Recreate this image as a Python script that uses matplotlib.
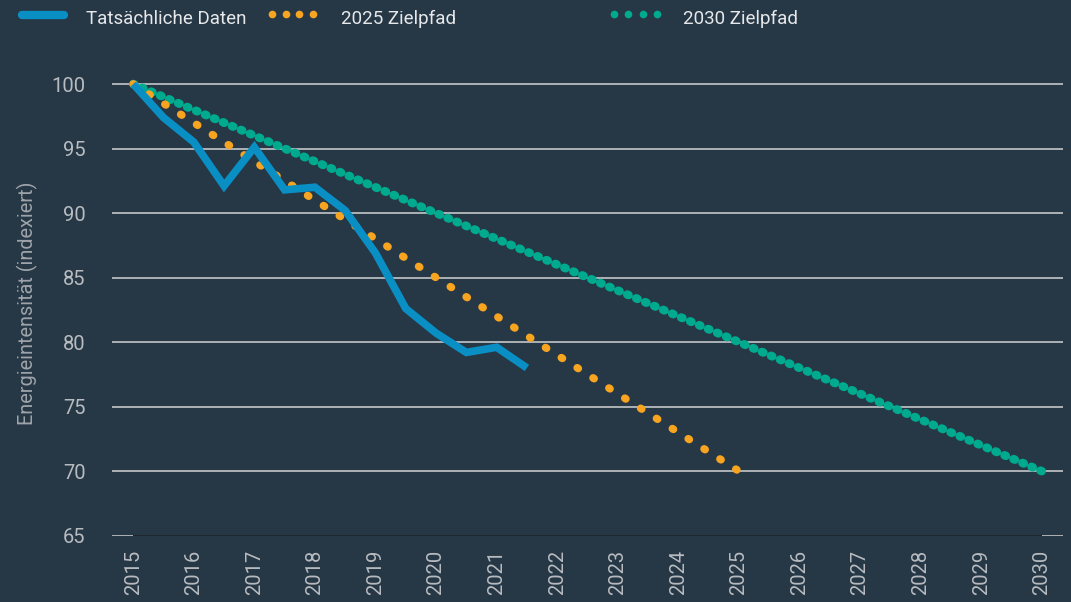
import matplotlib
matplotlib.use("Agg")
import matplotlib.pyplot as plt
from matplotlib.lines import Line2D

# ---- data ----
actual_years = [2015, 2015.5, 2016, 2016.5, 2017, 2017.5, 2018, 2018.5,
                2019, 2019.5, 2020, 2020.5, 2021, 2021.5]
actual_values = [100, 97.4, 95.5, 92.1, 95.1, 91.8, 92.0, 90.2,
                 86.9, 82.6, 80.7, 79.2, 79.6, 78.0]
target2025_years = [2015, 2025]
target2025_values = [100, 70]
target2030_years = [2015, 2030]
target2030_values = [100, 70]
x_ticks = list(range(2015, 2031))
y_ticks = [65, 70, 75, 80, 85, 90, 95, 100]
labels = ["Tatsächliche Daten", "2025 Zielpfad", "2030 Zielpfad"]
y_label = "Energieintensität (indexiert)"

# ---- style ----
BG = "#263746"
BLUE = "#0a8fc4"
ORANGE = "#f7a421"
GREEN = "#00aa8e"
GRID = "#c4c6c8"
TICK = "#b8bcc0"
FONT = ["Roboto", "DejaVu Sans"]
plt.rcParams["font.family"] = FONT

fig = plt.figure(figsize=(10.71, 6.02), dpi=100, facecolor=BG)
ax = fig.add_axes([112 / 1071, 66.3 / 602, (1063 - 112) / 1071, (530.9 - 66.3) / 602])
ax.set_facecolor(BG)

ax.set_xlim(2015 - 0.35, 2030 + 0.35)
ax.set_ylim(65, 101)
ax.set_yticks(y_ticks)
ax.set_xticks(x_ticks)
ax.set_xticklabels([str(y) for y in x_ticks], rotation=90)
ax.yaxis.grid(True, color=GRID, linewidth=1.2)
ax.set_axisbelow(True)
for s in ax.spines.values():
    s.set_visible(False)
ax.tick_params(axis="y", length=0, pad=19, labelsize=14.5, labelcolor=TICK)
ax.tick_params(axis="x", length=0, pad=10, labelsize=14.5, labelcolor=TICK)
ax.hlines(y_ticks[0], x_ticks[0], x_ticks[-1], color="#111820", linewidth=1.3, zorder=2)

ax.set_ylabel(y_label, color="#9ea4aa", fontsize=14.3)
ax.yaxis.set_label_coords(-0.078, 0.5)

# target paths (dotted)
ax.plot(target2030_years, target2030_values, color=GREEN, linewidth=6.2,
        linestyle=(0, (0.15, 0.984)), dash_capstyle="round", zorder=3)
ax.plot(target2025_years, target2025_values, color=ORANGE, linewidth=5.6,
        linestyle=(0, (0.15, 2.27)), dash_capstyle="round", zorder=4)
# actual data
ax.plot(actual_years, actual_values, color=BLUE, linewidth=5.5,
        solid_joinstyle="miter", solid_capstyle="butt", zorder=5)

# ---- legend (manual, figure pixel coords) ----
W, H = 1071, 602
def fx(px):
    return px / W
def fy(py):
    return 1 - py / H

fig.add_artist(Line2D([fx(22), fx(64)], [fy(15), fy(15)], color=BLUE, linewidth=6,
                      solid_capstyle="round", transform=fig.transFigure))
fig.add_artist(Line2D([fx(272), fx(285.7), fx(299.3), fx(313)], [fy(14)] * 4, color=ORANGE,
                      linestyle="None", marker="o", markersize=5.5, markeredgewidth=0,
                      transform=fig.transFigure))
fig.add_artist(Line2D([fx(614), fx(628.3), fx(642.7), fx(657)], [fy(14)] * 4, color=GREEN,
                      linestyle="None", marker="o", markersize=5.5, markeredgewidth=0,
                      transform=fig.transFigure))
for x0, t in zip([86, 341, 683], labels):
    fig.text(fx(x0), fy(19), t, color="#e6e8ea", fontsize=13.5, va="center", ha="left")

fig.savefig("out.png", dpi=100, facecolor=BG)
